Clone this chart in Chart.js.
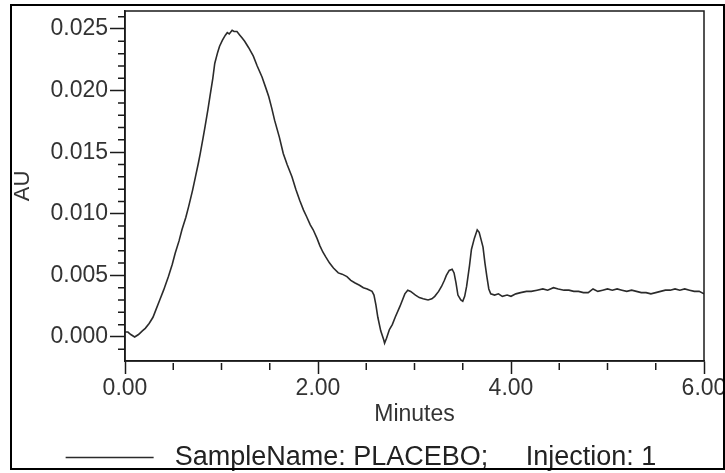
<!DOCTYPE html>
<html>
<head>
<meta charset="utf-8">
<script src="https://cdn.jsdelivr.net/npm/chart.js@4"></script>
<style>
  body { margin: 0; background: #fff; }
  canvas { display: block; }
</style>
</head>
<body>
<canvas id="Cromatograma" width="725" height="473"></canvas>
<script>
const minutes = [0.00, 0.03, 0.06, 0.10, 0.14, 0.18, 0.21, 0.25, 0.29, 0.32, 0.36, 0.40, 0.45, 0.49, 0.52, 0.56, 0.59, 0.63, 0.66, 0.70,
  0.73, 0.76, 0.78, 0.81, 0.83, 0.86, 0.88, 0.91, 0.93, 0.96, 0.98, 1.01, 1.04, 1.06, 1.08, 1.11, 1.13, 1.16, 1.19, 1.21,
  1.24, 1.28, 1.33, 1.37, 1.42, 1.46, 1.49, 1.52, 1.55, 1.60, 1.64, 1.68, 1.73, 1.77, 1.81, 1.85, 1.88, 1.92, 1.95, 1.99,
  2.02, 2.05, 2.08, 2.12, 2.16, 2.21, 2.25, 2.30, 2.34, 2.38, 2.43, 2.47, 2.51, 2.56, 2.58, 2.60, 2.62, 2.65, 2.68, 2.69,
  2.71, 2.74, 2.77, 2.80, 2.85, 2.90, 2.93, 2.96, 3.01, 3.05, 3.09, 3.14, 3.18, 3.21, 3.25, 3.28, 3.31, 3.33, 3.36, 3.39,
  3.41, 3.43, 3.45, 3.48, 3.50, 3.52, 3.54, 3.57, 3.59, 3.62, 3.65, 3.67, 3.69, 3.71, 3.73, 3.75, 3.77, 3.79, 3.83, 3.87,
  3.91, 3.96, 4.00, 4.05, 4.10, 4.16, 4.21, 4.27, 4.33, 4.38, 4.44, 4.49, 4.55, 4.60, 4.65, 4.70, 4.75, 4.80, 4.85, 4.90,
  4.95, 5.00, 5.05, 5.10, 5.15, 5.20, 5.25, 5.30, 5.35, 5.40, 5.45, 5.50, 5.55, 5.60, 5.65, 5.70, 5.75, 5.80, 5.85, 5.90,
  5.95, 6.00];
const au = [0.0004, 0.0004, 0.0002, 0.0000, 0.0002, 0.0005, 0.0007, 0.0011, 0.0016, 0.0022, 0.0030, 0.0038, 0.0049, 0.0059, 0.0068, 0.0078, 0.0087, 0.0097, 0.0106, 0.0119,
  0.0130, 0.0141, 0.0149, 0.0162, 0.0171, 0.0185, 0.0195, 0.0210, 0.0222, 0.0231, 0.0236, 0.0241, 0.0245, 0.0247, 0.0246, 0.0249, 0.0248, 0.0248, 0.0245, 0.0243,
  0.0240, 0.0235, 0.0228, 0.0220, 0.0211, 0.0202, 0.0195, 0.0186, 0.0176, 0.0162, 0.0149, 0.0140, 0.0130, 0.0120, 0.0111, 0.0103, 0.0098, 0.0091, 0.0087, 0.0080,
  0.0074, 0.0069, 0.0065, 0.0060, 0.0056, 0.0052, 0.0051, 0.0049, 0.0046, 0.0044, 0.0042, 0.0040, 0.0039, 0.0037, 0.0034, 0.0026, 0.0016, 0.0005, -0.0002, -0.0005,
  -0.0001, 0.0006, 0.0010, 0.0016, 0.0025, 0.0035, 0.0038, 0.0037, 0.0034, 0.0032, 0.0031, 0.0030, 0.0031, 0.0033, 0.0037, 0.0041, 0.0046, 0.0050, 0.0054, 0.0055,
  0.0052, 0.0044, 0.0034, 0.0030, 0.0029, 0.0033, 0.0041, 0.0058, 0.0071, 0.0080, 0.0087, 0.0085, 0.0079, 0.0073, 0.0060, 0.0049, 0.0039, 0.0035, 0.0034, 0.0035,
  0.0033, 0.0034, 0.0033, 0.0035, 0.0036, 0.0037, 0.0037, 0.0038, 0.0039, 0.0038, 0.0040, 0.0039, 0.0038, 0.0038, 0.0037, 0.0037, 0.0036, 0.0036, 0.0039, 0.0037,
  0.0038, 0.0039, 0.0038, 0.0039, 0.0038, 0.0037, 0.0038, 0.0037, 0.0036, 0.0036, 0.0035, 0.0036, 0.0037, 0.0038, 0.0038, 0.0039, 0.0038, 0.0039, 0.0038, 0.0037,
  0.0037, 0.0035];
const xTicks = [0, 2, 4, 6];
const yTicks = [0.000, 0.005, 0.010, 0.015, 0.020, 0.025];
const seriesLabel = '\u00a0SampleName: PLACEBO;\u00a0\u00a0\u00a0\u00a0\u00a0Injection: 1';

document.addEventListener("DOMContentLoaded", () => {
  const fuente = "'Liberation Sans', Arial, sans-serif";

  // minor ticks and frames, drawn with the chart's own scales
  const marco = {
    id: 'marco',
    afterDraw(chart) {
      const { ctx, chartArea: a, scales: { x, y } } = chart;
      ctx.save();
      ctx.strokeStyle = '#1a1a1a';
      ctx.lineWidth = 1.5;
      ctx.strokeRect(a.left, a.top, a.right - a.left, a.bottom - a.top);
      ctx.beginPath();
      for (let i = -1; i <= 26; i++) {
        if (i % 5 === 0) continue;
        const p = y.getPixelForValue(i / 1000);
        ctx.moveTo(a.left - 7, p);
        ctx.lineTo(a.left, p);
      }
      for (let i = 1; i < 12; i++) {
        if (i % 4 === 0) continue;
        const p = x.getPixelForValue(i / 2);
        ctx.moveTo(p, a.bottom + 2);
        ctx.lineTo(p, a.bottom + 9);
      }
      ctx.stroke();
      ctx.lineWidth = 2;
      ctx.strokeStyle = '#000';
      ctx.strokeRect(11, 5, 713, 464);
      ctx.restore();
    }
  };

  function Cromatograma() {
    const lienzo = document.getElementById("Cromatograma");
    new Chart(lienzo.getContext('2d'), {
      type: 'line',
      data: {
        datasets: [{
          label: seriesLabel,
          data: minutes.map((t, i) => ({ x: t, y: au[i] })),
          borderColor: '#2b2b2b',
          backgroundColor: '#2b2b2b',
          borderWidth: 1.6,
          pointRadius: 0,
          tension: 0,
          pointStyle: 'line'
        }]
      },
      options: {
        responsive: false,
        animation: false,
        devicePixelRatio: 1,
        layout: { padding: { top: 11, right: 21, left: 18, bottom: -8 } },
        plugins: {
          tooltip: { enabled: false },
          legend: {
            position: 'bottom',
            labels: {
              usePointStyle: true,
              pointStyleWidth: 88,
              padding: 0,
              color: '#222',
              font: { family: fuente, size: 27, lineHeight: 1 }
            }
          }
        },
        scales: {
          x: {
            type: 'linear',
            min: 0,
            max: 6,
            afterBuildTicks: (s) => { s.ticks = xTicks.map(v => ({ value: v })); },
            afterFit: (s) => { s.height = 83; s.paddingLeft = 0; s.paddingRight = 0; },
            ticks: {
              color: '#333',
              padding: 3,
              maxRotation: 0,
              font: { family: fuente, size: 23, lineHeight: 1 },
              callback: (v) => Number(v).toFixed(2)
            },
            grid: { drawOnChartArea: false, color: '#1a1a1a', tickLength: 13, tickWidth: 1.5 },
            border: { color: '#1a1a1a', width: 1.5 },
            title: {
              display: true,
              text: 'Minutes',
              color: '#333',
              padding: { top: 0, bottom: 18 },
              font: { family: fuente, size: 23, lineHeight: 1 }
            }
          },
          y: {
            min: -0.00195,
            max: 0.02646,
            afterBuildTicks: (s) => { s.ticks = yTicks.map(v => ({ value: v })); },
            afterFit: (s) => { s.width = 107; s.paddingTop = 0; s.paddingBottom = 0; },
            ticks: {
              color: '#333',
              padding: 2,
              font: { family: fuente, size: 23, lineHeight: 1 },
              callback: (v) => Number(v).toFixed(3)
            },
            grid: { drawOnChartArea: false, color: '#1a1a1a', tickLength: 15, tickWidth: 1.5 },
            border: { color: '#1a1a1a', width: 1.5 },
            title: {
              display: true,
              text: 'AU',
              color: '#333',
              padding: { top: -6, bottom: 0 },
              font: { family: fuente, size: 22, lineHeight: 1 }
            }
          }
        }
      },
      plugins: [marco]
    });
  }
  Cromatograma();
});
</script>
</body>
</html>
